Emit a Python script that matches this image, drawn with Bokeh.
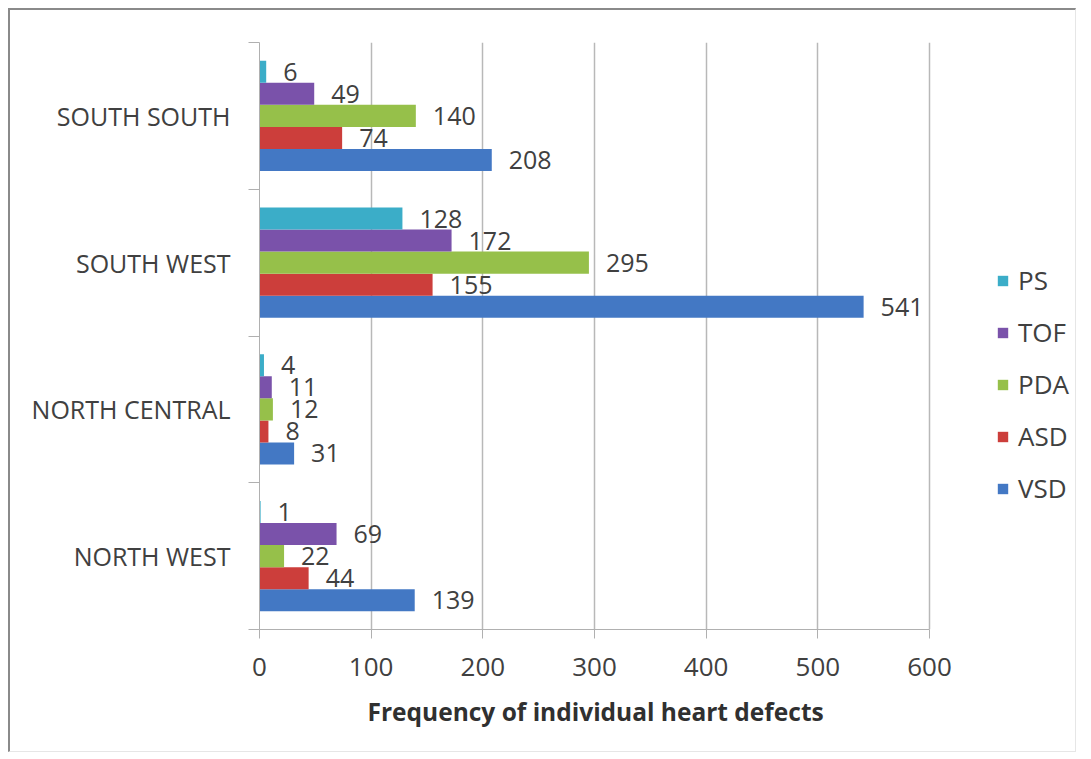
from bokeh.plotting import figure
from bokeh.models import ColumnDataSource, FixedTicker, Range1d, Legend, LegendItem, Title
from bokeh.transform import dodge
from bokeh.core.properties import value
from bokeh.embed import file_html
from bokeh.resources import INLINE

# ---- data ----
regions = ["NORTH WEST", "NORTH CENTRAL", "SOUTH WEST", "SOUTH SOUTH"]
series = ["VSD", "ASD", "PDA", "TOF", "PS"]
VSD = [139, 31, 541, 208]
ASD = [44, 8, 155, 74]
PDA = [22, 12, 295, 140]
TOF = [69, 11, 172, 49]
PS = [1, 4, 128, 6]
x_ticks = [0, 100, 200, 300, 400, 500, 600]
x_title = "Frequency of individual heart defects"

values = {"VSD": VSD, "ASD": ASD, "PDA": PDA, "TOF": TOF, "PS": PS}
colors = {"VSD": "#4378C4", "ASD": "#CC3E3B", "PDA": "#96C04A",
          "TOF": "#7A52AA", "PS": "#3BADC8"}
offsets = {"VSD": -0.3, "ASD": -0.15, "PDA": 0.0, "TOF": 0.15, "PS": 0.3}

pos = [i + 0.5 for i in range(len(regions))]
data = {"pos": pos, "region": regions}
for s in series:
    data[s] = values[s]
    data[s + "_lbl"] = [str(v) for v in values[s]]
src = ColumnDataSource(data)

FONT = "Open Sans"
TXT = "#404040"

# layout (pixels)
W, H = 1068, 744
BL, BR, BT, BB = 249, 5, 32, 125
axis_px = 670                      # pixel length of the 0..600 axis
frame_w = W - BL - BR
x_max = x_ticks[-1]
x_end = x_max * frame_w / axis_px  # frame extends right to host the legend

p = figure(width=W, height=H, output_backend="svg", toolbar_location=None,
           x_range=Range1d(0, x_end), y_range=Range1d(0, len(regions)),
           min_border_left=BL, min_border_right=BR, min_border_top=BT,
           min_border_bottom=BB)
p.outline_line_color = None
p.background_fill_color = "white"
p.border_fill_color = "white"
p.styles = {"margin-left": "8px", "margin-top": "8px",
            "border-left": "2px solid #8a8a8a", "border-top": "2px solid #8a8a8a",
            "border-right": "1px solid #e6e6e6", "border-bottom": "1px solid #e6e6e6"}

renderers = {}
for s in series:
    r = p.hbar(y=dodge("pos", offsets[s], range=p.y_range), left=0, right=s,
               height=0.15, source=src, fill_color=colors[s], line_color=None)
    renderers[s] = r
    p.text(x=s, y=dodge("pos", offsets[s], range=p.y_range), text=s + "_lbl",
           source=src, x_offset=17, text_align="left", text_baseline="middle",
           text_font=value(FONT), text_font_size="25px", text_color=TXT)

# x axis
p.xaxis.ticker = FixedTicker(ticks=x_ticks)
p.xaxis.bounds = (0, x_max)
p.xaxis.axis_line_color = "#b0b0b0"
p.xaxis.major_tick_line_color = "#b0b0b0"
p.xaxis.major_tick_out = 9
p.xaxis.major_tick_in = 0
p.xaxis.minor_tick_line_color = None
p.xaxis.major_label_text_font = FONT
p.xaxis.major_label_text_font_size = "26px"
p.xaxis.major_label_text_color = TXT
p.xaxis.major_label_standoff = 19

# axis title, centred under the 0..600 part of the axis
xt = Title(text=x_title, align="left", offset=108, standoff=28,
           text_font=FONT, text_font_style="bold", text_font_size="24.5px",
           text_color="#303030")
p.add_layout(xt, "below")

# y axis: labels at centers, ticks at boundaries
p.yaxis.ticker = FixedTicker(ticks=pos, minor_ticks=list(range(len(regions) + 1)))
p.yaxis.major_label_overrides = {pp: r for pp, r in zip(pos, regions)}
p.yaxis.axis_line_color = "#b0b0b0"
p.yaxis.major_tick_line_color = None
p.yaxis.major_tick_out = 0
p.yaxis.major_tick_in = 0
p.yaxis.minor_tick_line_color = "#b0b0b0"
p.yaxis.minor_tick_out = 11
p.yaxis.minor_tick_in = 0
p.yaxis.major_label_text_font = FONT
p.yaxis.major_label_text_font_size = "25px"
p.yaxis.major_label_text_color = TXT
p.yaxis.major_label_standoff = 18

p.xgrid.ticker = FixedTicker(ticks=x_ticks)
p.xgrid.bounds = (0, x_max)
p.xgrid.grid_line_color = "#b8b8b8"
p.xgrid.grid_line_width = 1.5
p.ygrid.grid_line_color = None

legend = Legend(items=[LegendItem(label=s, renderers=[renderers[s]]) for s in reversed(series)],
                location=(737, 123), orientation="vertical",
                glyph_width=13, glyph_height=13, label_height=32, spacing=16,
                label_standoff=9, padding=10, margin=0,
                label_text_font=FONT, label_text_font_size="26px", label_text_color=TXT,
                border_line_color=None, background_fill_alpha=0)
p.add_layout(legend, "center")

open("out.html", "w").write(file_html(p, INLINE))
